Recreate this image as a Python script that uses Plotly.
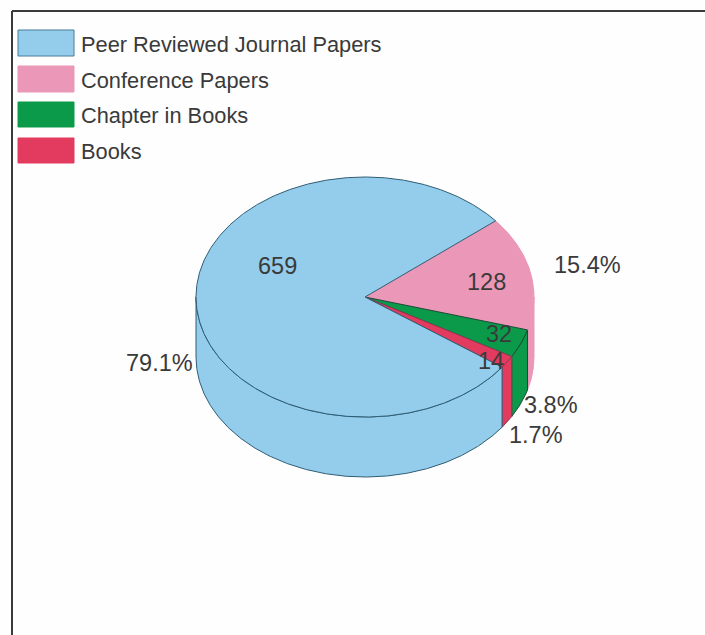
import numpy as np
import plotly.graph_objects as go

categories = ["Peer Reviewed Journal Papers", "Conference Papers", "Chapter in Books", "Books"]
counts = [659, 128, 32, 14]
percent_labels = ["79.1%", "15.4%", "3.8%", "1.7%"]
colors = ["#93CDEB", "#EA97B8", "#0A9A4A", "#E33B5F"]
outlines = ["#2F5D75", "#EA97B8", "#1F4A38", "#8A3A50"]

W, H = 705, 635
CX, CY, RX, RY, DEPTH = 365.0, 297.0, 169.0, 120.0, 60.0
START = 39.4  # degrees at which the Conference Papers slice begins
FONT = "Liberation Sans, Arial, sans-serif"
TEXT = "#3A3A3A"

total = sum(counts)
order = [1, 2, 3, 0]
ranges = {}
cursor = START
for i in order:
    ranges[i] = (cursor, cursor - counts[i] / total * 360.0)
    cursor = ranges[i][1]


def arc(a, b, dy=0.0):
    n = max(2, int(abs(a - b)) * 2 + 2)
    t = np.radians(np.linspace(a, b, n))
    return CX + RX * np.cos(t), CY - RY * np.sin(t) + dy


fig = go.Figure()

# outer walls (only the front half of the drum is visible)
for i in order:
    a, b = ranges[i]
    a2, b2 = min(a, 0.0), max(b, -180.0)
    if a2 <= b2:
        continue
    xt, yt = arc(a2, b2)
    xb, yb = arc(b2, a2, DEPTH)
    fig.add_trace(go.Scatter(
        x=np.r_[xt, xb, xt[0]], y=np.r_[yt, yb, yt[0]], mode="lines", fill="toself",
        fillcolor=colors[i], line=dict(color=outlines[i], width=1),
        hoverinfo="skip", showlegend=False))

# top faces
for i in order:
    a, b = ranges[i]
    x, y = arc(a, b)
    fig.add_trace(go.Scatter(
        x=np.r_[CX, x, CX], y=np.r_[CY, y, CY], mode="lines", fill="toself",
        fillcolor=colors[i], line=dict(color=outlines[i], width=1),
        hoverinfo="skip", showlegend=False))

shapes = [
    dict(type="line", x0=12, x1=12, y0=11, y1=H, line=dict(color="#3A3A3A", width=2)),
    dict(type="line", x0=12, x1=W, y0=11, y1=11, line=dict(color="#3A3A3A", width=2)),
]
legend_tops = [30, 66, 102, 138]
legend_bottoms = [56, 92, 127, 163]
annotations = []
for i, cat in enumerate(categories):
    shapes.append(dict(type="rect", x0=18, x1=74, y0=legend_tops[i], y1=legend_bottoms[i],
                       fillcolor=colors[i], line=dict(color="#4A7C9A" if i == 0 else colors[i], width=1)))
    annotations.append(dict(x=79, y=(legend_tops[i] + legend_bottoms[i]) / 2 + 1, text=cat, xanchor="left",
                            xref="x", yref="y", showarrow=False, yanchor="middle",
                            font=dict(family=FONT, size=21.8, color=TEXT)))

label_pos = {"659": (277, 266), "128": (486, 282), "32": (499, 334), "14": (491, 361),
             "79.1%": (159, 363), "15.4%": (587, 265), "3.8%": (551, 405), "1.7%": (536, 435)}
for txt, (x, y) in label_pos.items():
    annotations.append(dict(x=x, y=y, text=txt, xanchor="center",
                            xref="x", yref="y", showarrow=False, yanchor="middle",
                            font=dict(family=FONT, size=23.5, color=TEXT)))

fig.update_layout(
    width=W, height=H, margin=dict(l=0, r=0, t=0, b=0),
    paper_bgcolor="#FEFEFE", plot_bgcolor="#FEFEFE", showlegend=False,
    xaxis=dict(range=[0, W], visible=False, fixedrange=True),
    yaxis=dict(range=[H, 0], visible=False, fixedrange=True),
    shapes=shapes, annotations=annotations,
)
fig.write_html("out.html", config={"displayModeBar": False},
               post_script="document.body.style.margin='0';document.documentElement.style.overflow='hidden';window.dispatchEvent(new Event('resize'));")
